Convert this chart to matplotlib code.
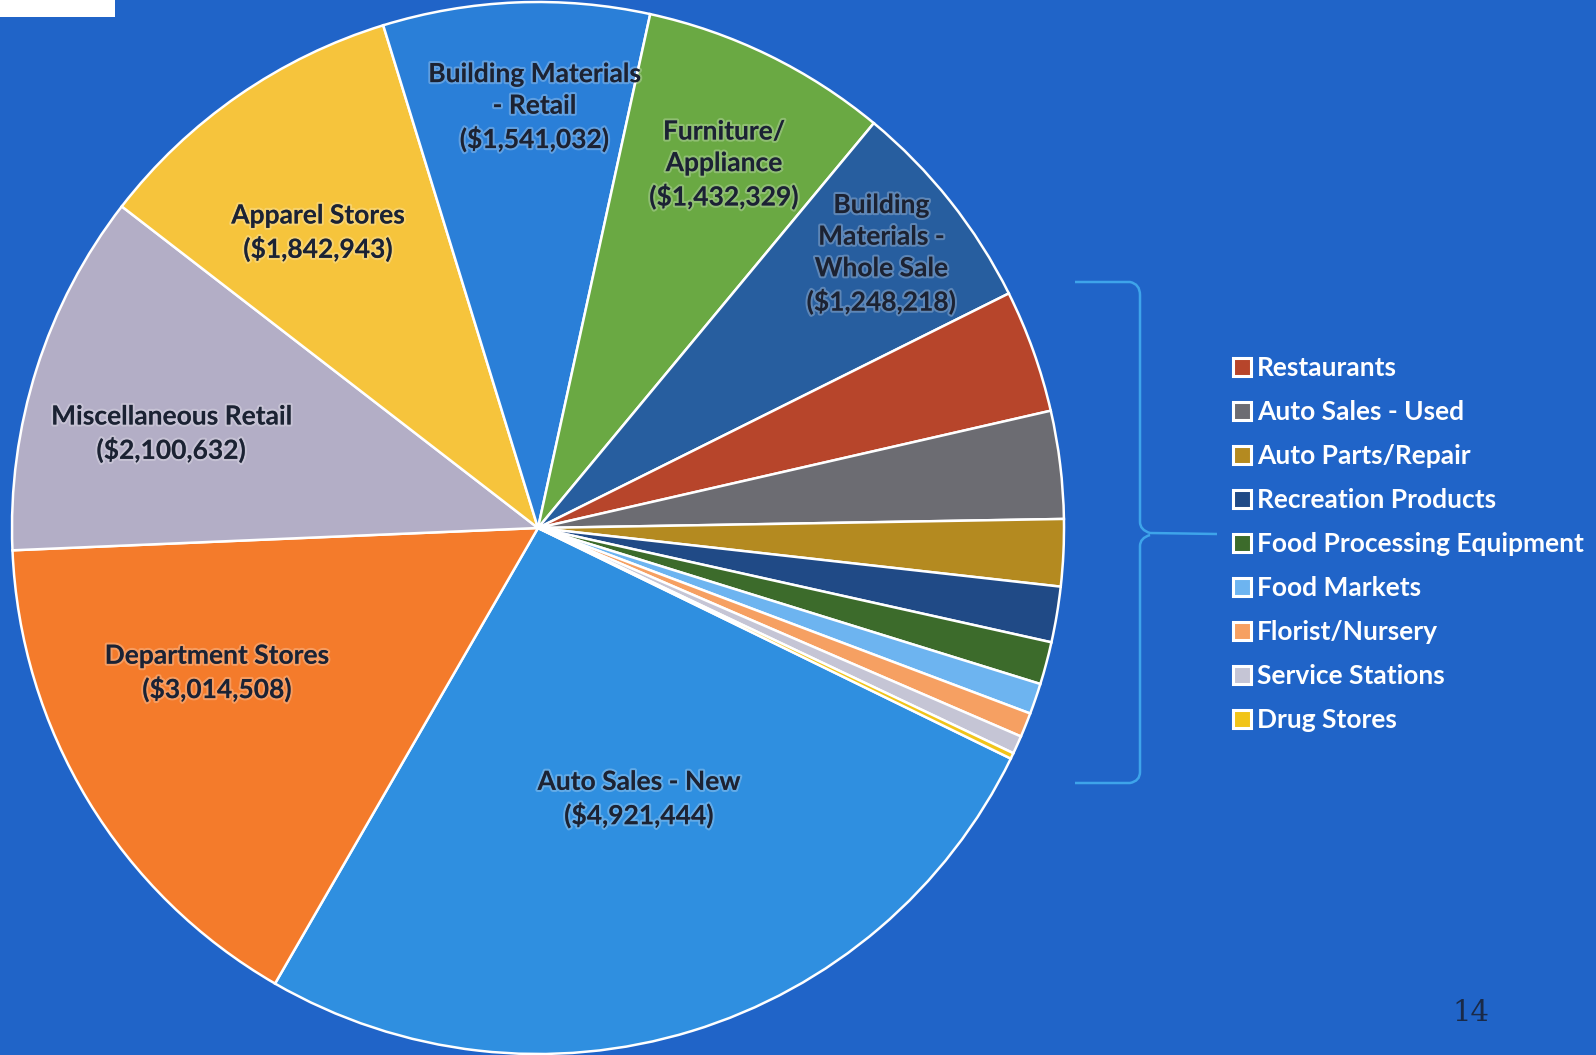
import numpy as np
import matplotlib
import matplotlib.pyplot as plt
from matplotlib.patches import Rectangle, PathPatch
from matplotlib.path import Path
import matplotlib.patheffects as pe
matplotlib.use('Agg')

# retail sales by category, sorted largest first (clockwise from Auto Sales - New)
categories = ["Auto Sales - New", "Department Stores", "Miscellaneous Retail",
              "Apparel Stores", "Building Materials\n- Retail", "Furniture/\nAppliance",
              "Building\nMaterials -\nWhole Sale", "Restaurants", "Auto Sales - Used",
              "Auto Parts/Repair", "Recreation Products", "Food Processing Equipment",
              "Food Markets", "Florist/Nursery", "Service Stations", "Drug Stores"]
sales = [4921444, 3014508, 2100632, 1842943, 1541032, 1432329, 1248218,
         712000, 623000, 387000, 322000, 246000, 178000, 141000, 105000, 34000]
colors = ["#2f8fe0", "#f47b2b", "#b3aec6", "#f6c43c", "#2a7fd8", "#6aa943",
          "#275e9f", "#b7452b", "#6c6c72", "#b48a20", "#204a86", "#3c6b2b",
          "#6db4f0", "#f6a062", "#c5c5d5", "#f1c418"]
n_labeled = 7  # first 7 labelled on the pie, the rest go in the legend

# label placement (radius fraction, angle deg) for the labelled slices
lab_r = [0.55, 0.67, 0.72, 0.70, 0.80, 0.776, 0.835]
lab_ang = [-69.6, 204.3, 165.6, 126.7, 90.5, 62.9, 38.6]

W, H = 1596, 1055
fig = plt.figure(figsize=(W / 100, H / 100), dpi=100)
fig.patch.set_facecolor("#2064c8")

# pie centre at (538, 528) px, radius 526 px
cx, cy, R = 538, 528, 526
ax = fig.add_axes([(cx - R) / W, (H - cy - R) / H, 2 * R / W, 2 * R / H])
wedges, _ = ax.pie(sales, colors=colors, startangle=-26, counterclock=False,
                   wedgeprops=dict(edgecolor="white", linewidth=1.8))
ax.set_xlim(-1, 1)
ax.set_ylim(-1, 1)
ax.set_aspect("equal")
ax.axis("off")

for i in range(n_labeled):
    a = np.deg2rad(lab_ang[i])
    txt = "%s\n($%s)" % (categories[i], format(sales[i], ","))
    ax.text(lab_r[i] * np.cos(a), lab_r[i] * np.sin(a), txt, ha="center", va="center",
            fontsize=19, fontweight="bold", family="Lato", color="#1b2233",
            linespacing=1.38,
            path_effects=[pe.withStroke(linewidth=3, foreground=(1, 1, 1, 0.25))])

# legend for the small slices
leg = fig.legend(wedges[n_labeled:], categories[n_labeled:], loc="upper left",
                 bbox_to_anchor=(1233 / W, 1 - 356 / H), frameon=False,
                 handlelength=0.7, handleheight=0.7, handletextpad=0.2,
                 labelspacing=0.76, borderaxespad=0, borderpad=0,
                 prop=dict(family="Lato", weight="bold", size=19))
for t in leg.get_texts():
    t.set_color("white")
for h in leg.legend_handles:
    h.set_edgecolor("white")
    h.set_linewidth(2.2)

# overlay in pixel coords for bracket, page number and the white tab
ov = fig.add_axes([0, 0, 1, 1], facecolor="none")
ov.set_xlim(0, W)
ov.set_ylim(H, 0)
ov.axis("off")

verts = [(1075, 282), (1130, 282), (1140, 284), (1140, 295),
         (1140, 522), (1140, 530), (1150, 533), (1217, 534),
         (1150, 535), (1140, 538), (1140, 546),
         (1140, 772), (1140, 781), (1130, 783), (1075, 783)]
codes = [Path.MOVETO, Path.LINETO, Path.CURVE3, Path.CURVE3,
         Path.LINETO, Path.CURVE3, Path.CURVE3, Path.LINETO,
         Path.MOVETO, Path.CURVE3, Path.CURVE3,
         Path.LINETO, Path.CURVE3, Path.CURVE3, Path.LINETO]
ov.add_patch(PathPatch(Path(verts, codes), facecolor="none", edgecolor="#3ea4ea", linewidth=1.8))

ov.add_patch(Rectangle((0, 0), 115, 17, facecolor="white", edgecolor="none"))
ov.text(1471, 1013, "14", ha="center", va="center", fontsize=21,
        family="DejaVu Serif", color="#1a2a48")

fig.savefig("out.png", dpi=100, facecolor=fig.get_facecolor())
